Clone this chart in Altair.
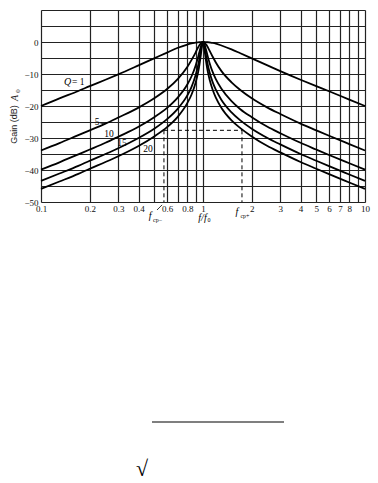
import altair as alt
import pandas as pd

# ---- data ----
freqs = [0.1, 0.13, 0.17, 0.2, 0.25, 0.3, 0.4, 0.5, 0.6, 0.7, 0.8, 0.85, 0.9, 0.93, 0.95,
         0.97, 0.98, 0.99, 1.0, 1.01, 1.02, 1.03, 1.05, 1.07, 1.1, 1.15, 1.2, 1.3, 1.5, 1.7,
         2, 2.5, 3, 4, 5, 6, 8, 10]

gain_q1 = [-20.0, -17.6, -15.3, -13.8, -11.8, -10.1, -7.3, -5.1, -3.3, -1.8, -0.8, -0.4, -0.2,
           -0.1, -0.05, -0.02, -0.01, 0.0, 0.0, 0.0, -0.01, -0.02, -0.04, -0.08, -0.16, -0.3,
           -0.5, -1.1, -2.3, -3.5, -5.1, -7.3, -9.1, -11.8, -13.8, -15.4, -18.0, -20.0]
gain_q5 = [-33.9, -31.6, -29.1, -27.6, -25.5, -23.6, -20.5, -17.6, -14.7, -11.5, -7.8, -5.6, -3.3,
           -1.8, -1.0, -0.4, -0.2, -0.04, 0.0, -0.04, -0.17, -0.4, -0.9, -1.6, -2.8, -4.7,
           -6.4, -9.1, -12.6, -15.0, -17.6, -20.5, -22.5, -25.5, -27.6, -29.3, -31.9, -33.9]
gain_q10 = [-39.9, -37.6, -35.1, -33.6, -31.5, -29.6, -26.5, -23.5, -20.6, -17.3, -13.3, -10.7, -7.4,
            -4.9, -3.1, -1.4, -0.7, -0.2, 0.0, -0.17, -0.6, -1.3, -2.9, -4.5, -6.7, -9.5,
            -11.6, -14.6, -18.5, -21.0, -23.5, -26.5, -28.5, -31.5, -33.6, -35.3, -37.9, -39.9]
gain_q15 = [-43.4, -41.1, -38.7, -37.1, -35.0, -33.2, -30.0, -27.1, -24.1, -20.8, -16.7, -14.0, -10.4,
            -7.6, -5.3, -2.6, -1.4, -0.4, 0.0, -0.4, -1.3, -2.5, -5.0, -7.1, -9.6, -12.7,
            -14.9, -18.1, -22.0, -24.5, -27.1, -30.0, -32.0, -35.0, -37.1, -38.8, -41.4, -43.4]
gain_q20 = [-45.9, -43.6, -41.2, -39.6, -37.5, -35.7, -32.5, -29.5, -26.6, -23.3, -19.1, -16.4, -12.7,
            -9.8, -7.2, -4.0, -2.2, -0.7, 0.0, -0.6, -2.1, -3.8, -6.8, -9.2, -11.9, -15.1,
            -17.4, -20.6, -24.5, -26.9, -29.5, -32.5, -34.5, -37.5, -39.6, -41.3, -43.9, -45.9]

q_values = [1, 5, 10, 15, 20]
gains = [gain_q1, gain_q5, gain_q10, gain_q15, gain_q20]

# curve labels
q_label_text = ["5", "10", "15", "20"]
q_label_f = [0.222, 0.263, 0.316, 0.457]
q_label_db = [-25.1, -28.75, -31.7, -33.5]

# cut-off markers (dashed)
f_cp_lo = 0.574
f_cp_hi = 1.74
db_cp = -27.6

x_grid_values = [0.1, 0.2, 0.3, 0.4, 0.5, 0.6, 0.7, 0.8, 0.9, 1, 2, 3, 4, 5, 6, 7, 8, 9, 10]
x_label_values = [0.1, 0.2, 0.3, 0.4, 0.6, 0.8, 1, 2, 3, 4, 5, 6, 7, 8, 10]
y_grid_values = [-50, -45, -40, -35, -30, -25, -20, -15, -10, -5, 0, 5, 10]
y_label_values = [-50, -40, -30, -20, -10, 0]

# ---- tables ----
rows = []
for q, g in zip(q_values, gains):
    for f, v in zip(freqs, g):
        rows.append({"f": f, "db": v, "Q": q})
curves = pd.DataFrame(rows)

hidden_x = [v for v in x_grid_values if v not in x_label_values]
x_hide = " || ".join(f"abs(datum.value - {v}) < 1e-9" for v in hidden_x)
x_label_expr = f"({x_hide}) ? '' : datum.label"
y_show = " || ".join(f"datum.value == {v}" for v in y_label_values)
y_label_expr = f"({y_show}) ? datum.label : ''"

SERIF = "Liberation Serif"

xscale = alt.Scale(type="log", domain=[0.1, 10], nice=False)
yscale = alt.Scale(domain=[-50, 10], nice=False, zero=False)

xaxis = alt.Axis(values=x_grid_values, labelExpr=x_label_expr, format="~g", title=None,
                 ticks=False, domain=False, grid=True, gridColor="#222", gridWidth=1.2,
                 labelFont=SERIF, labelFontSize=9, labelColor="#111", labelPadding=2,
                 labelFlush=False, labelOverlap=False, labelBound=False)
yaxis = alt.Axis(values=y_grid_values, labelExpr=y_label_expr, title="Gain (dB)",
                 ticks=False, domain=False, grid=True, gridColor="#222", gridWidth=1.2,
                 labelFont=SERIF, labelFontSize=9, labelColor="#111", labelPadding=3,
                 labelFlush=False, labelOverlap=False,
                 titleFont="Liberation Sans", titleFontSize=9, titleFontWeight="normal",
                 titleColor="#222", titleAngle=270, titleX=-28, titleY=114,
                 titleAlign="center", titleBaseline="middle")

X = alt.X("f:Q", scale=xscale, axis=xaxis)
Y = alt.Y("db:Q", scale=yscale, axis=yaxis)

lines = alt.Chart(curves).mark_line(color="black", strokeWidth=1.8, interpolate="monotone").encode(
    x=X, y=Y, detail="Q:N")

# dashed cut-off lines
dash_h = alt.Chart(pd.DataFrame({"f": [f_cp_lo], "f2": [f_cp_hi], "db": [db_cp]})).mark_rule(
    color="black", strokeWidth=1, strokeDash=[4, 3]).encode(x=X, x2="f2:Q", y=Y)
dash_v = alt.Chart(pd.DataFrame({"f": [f_cp_lo, f_cp_hi], "db": [db_cp, db_cp], "db2": [-50, -50]})).mark_rule(
    color="black", strokeWidth=1, strokeDash=[4, 3]).encode(x=X, y=Y, y2="db2:Q")

# curve labels
qlab = alt.Chart(pd.DataFrame({"f": q_label_f, "db": q_label_db, "t": q_label_text})).mark_text(
    font=SERIF, fontSize=9.5, color="black").encode(x=X, y=Y, text="t:N")
q_italic = alt.Chart(pd.DataFrame({"f": [0.146], "db": [-12.4], "t": ["Q"]})).mark_text(
    font=SERIF, fontSize=10, fontStyle="italic", color="black").encode(x=X, y=Y, text="t:N")
q_eq = alt.Chart(pd.DataFrame({"f": [0.170], "db": [-12.4], "t": ["= 1"]})).mark_text(
    font=SERIF, fontSize=9.5, color="black").encode(x=X, y=Y, text="t:N")
leader5 = alt.Chart(pd.DataFrame({"f": [0.232, 0.247], "db": [-25.3, -25.6]})).mark_line(
    color="black", strokeWidth=0.8).encode(x=X, y=Y)

# x-axis annotations
f_italic = alt.Chart(pd.DataFrame({"f": [0.471, 1.62], "t": ["f", "f"], "yp": [206, 202]})).mark_text(
    font=SERIF, fontSize=10, fontStyle="italic", color="black").encode(
    x=X, y=alt.Y("yp:Q", scale=None), text="t:N")
ff0 = alt.Chart(pd.DataFrame({"f": [0.993], "t": ["f/f"]})).mark_text(
    font=SERIF, fontSize=10, fontStyle="italic", color="black").encode(
    x=X, y=alt.value(208), text="t:N")
subs = alt.Chart(pd.DataFrame({"f": [0.524, 1.816, 1.089], "t": ["cp−", "cp+", "0"],
                               "yp": [210, 206, 210]})).mark_text(
    font=SERIF, fontSize=6, color="black").encode(
    x=X, y=alt.Y("yp:Q", scale=None), text="t:N")
slash = alt.Chart(pd.DataFrame({"f": [0.52, 0.559], "db": [-52.5, -50.9]})).mark_line(
    color="black", strokeWidth=0.8).encode(x=X, y=Y)

# y-axis symbol A0
a_sym = alt.Chart(pd.DataFrame({"t": ["A"]})).mark_text(
    font=SERIF, fontSize=10, fontStyle="italic", color="#222", angle=270).encode(
    x=alt.value(-26), y=alt.value(88), text="t:N")
a_sub = alt.Chart(pd.DataFrame({"t": ["0"]})).mark_text(
    font=SERIF, fontSize=7, color="#222", angle=270).encode(
    x=alt.value(-23), y=alt.value(81), text="t:N")

# page remnants below the chart
bar = alt.Chart(pd.DataFrame({"a": [0]})).mark_rule(color="black", strokeWidth=1.2).encode(
    x=alt.value(111), x2=alt.value(243), y=alt.value(412))
sqrt = alt.Chart(pd.DataFrame({"t": ["√"]})).mark_text(
    font=SERIF, fontSize=22, color="black").encode(
    x=alt.value(101), y=alt.value(459), text="t:N")

chart = alt.layer(lines, dash_h, dash_v, qlab, q_italic, q_eq, leader5, f_italic, ff0, subs,
                  slash, a_sym, a_sub, bar, sqrt).properties(
    width=324, height=192,
    autosize=alt.AutoSizeParams(type="none"),
    padding={"left": 41, "top": 10, "right": 13, "bottom": 281},
).configure_view(stroke="black", strokeWidth=1.2).configure(background="white")

chart.save("out.html", embed_options={"renderer": "svg", "actions": False})
